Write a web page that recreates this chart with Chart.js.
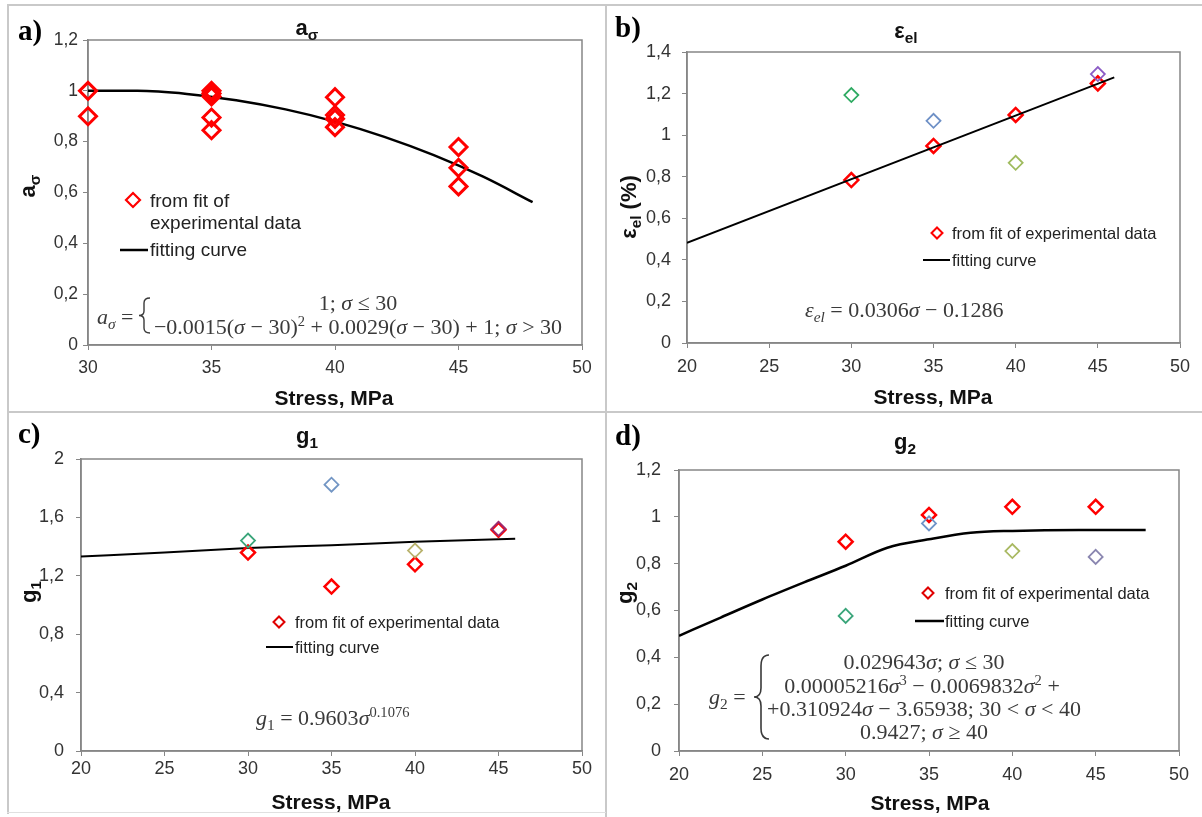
<!DOCTYPE html>
<html><head><meta charset="utf-8">
<script src="https://cdn.jsdelivr.net/npm/chart.js@4.4.1/dist/chart.umd.min.js"></script>
<style>
body{margin:0;background:#fff;}
#fig{position:relative;width:1202px;height:817px;overflow:hidden;font-family:'Liberation Sans',Arial,sans-serif;background:#fff;}
canvas{position:absolute;}
.t{position:absolute;white-space:nowrap;line-height:1;}
.fl{position:absolute;background:#c9c9c9;}
.lab{font-family:'Liberation Serif','Times New Roman',serif;font-weight:bold;font-size:29px;color:#000;}
.ttl{font-weight:bold;font-size:22px;color:#111;transform:translate(-50%,-50%);}
.xt{font-weight:bold;font-size:21px;color:#111;transform:translate(-50%,-50%);}
.yt{font-weight:bold;font-size:22px;color:#111;transform:translate(-50%,-50%) rotate(-90deg);}
.leg{font-size:16.5px;color:#222;transform:translateY(-50%);}
.lega{font-size:19px;color:#222;transform:translateY(-50%);}
.eq{font-family:'Liberation Serif','Times New Roman',serif;font-size:22px;color:#3a3a3a;transform:translate(-50%,-50%);}
.eql{font-family:'Liberation Serif','Times New Roman',serif;font-size:22px;color:#3a3a3a;transform:translateY(-50%);}
.sb{font-size:.7em;position:relative;top:.3em;}
.sp{font-size:.66em;position:relative;top:-.55em;}
svg{position:absolute;overflow:visible;}
</style></head>
<body>
<div id="fig">
  <canvas id="ca" width="600" height="410" style="left:0;top:0"></canvas>
  <canvas id="cb" width="596" height="410" style="left:606px;top:0"></canvas>
  <canvas id="cc" width="606" height="405" style="left:0;top:412px"></canvas>
  <canvas id="cd" width="596" height="405" style="left:606px;top:412px"></canvas>

  <div class="fl" style="left:7px;top:4px;width:1195px;height:2px"></div>
  <div class="fl" style="left:7px;top:4px;width:2px;height:810px"></div>
  <div class="fl" style="left:605px;top:4px;width:2px;height:813px"></div>
  <div class="fl" style="left:7px;top:411px;width:1195px;height:2px"></div>
  <div class="fl" style="left:7px;top:812px;width:599px;height:1px;background:#e0e0e0"></div>

  <!-- panel labels -->
  <div class="t lab" style="left:18px;top:16px">a)</div>
  <div class="t lab" style="left:615px;top:13px">b)</div>
  <div class="t lab" style="left:18px;top:419px">c)</div>
  <div class="t lab" style="left:615px;top:421px">d)</div>

  <!-- titles -->
  <div class="t ttl" style="left:307px;top:28px">a<span class="sb">σ</span></div>
  <div class="t ttl" style="left:906px;top:31px">ε<span class="sb">el</span></div>
  <div class="t ttl" style="left:307px;top:436px">g<span class="sb">1</span></div>
  <div class="t ttl" style="left:905px;top:442px">g<span class="sb">2</span></div>

  <!-- axis titles -->
  <div class="t xt" style="left:334px;top:397px">Stress, MPa</div>
  <div class="t xt" style="left:933px;top:396px">Stress, MPa</div>
  <div class="t xt" style="left:331px;top:801px">Stress, MPa</div>
  <div class="t xt" style="left:930px;top:802px">Stress, MPa</div>
  <div class="t yt" style="left:28px;top:186px">a<span class="sb">σ</span></div>
  <div class="t yt" style="left:629px;top:207px">ε<span class="sb">el</span> (%)</div>
  <div class="t yt" style="left:29px;top:592px">g<span class="sb">1</span></div>
  <div class="t yt" style="left:625px;top:593px">g<span class="sb">2</span></div>

  <!-- legends -->
  <svg style="left:0;top:0" width="1" height="1">
    <path d="M133 193 L140 200 L133 207 L126 200 Z" fill="none" stroke="#ff0000" stroke-width="2.2"/>
    <line x1="120" y1="250" x2="148" y2="250" stroke="#000" stroke-width="2.5"/>
    <path d="M937 227.5 L942.5 233 L937 238.5 L931.5 233 Z" fill="none" stroke="#ff0000" stroke-width="2"/>
    <line x1="923" y1="260" x2="950" y2="260" stroke="#000" stroke-width="2"/>
    <path d="M279 616.5 L284.5 622 L279 627.5 L273.5 622 Z" fill="none" stroke="#e00000" stroke-width="2"/>
    <line x1="266" y1="647" x2="293" y2="647" stroke="#000" stroke-width="2"/>
    <path d="M928 587.5 L933.5 593 L928 598.5 L922.5 593 Z" fill="none" stroke="#e00000" stroke-width="2"/>
    <line x1="915" y1="621" x2="944" y2="621" stroke="#000" stroke-width="2.5"/>
    <!-- braces -->
    <path d="M150 298 Q144 298 144 303 L144 311 Q144 315.5 139 315.5 Q144 315.5 144 320 L144 328 Q144 333 150 333" fill="none" stroke="#3a3a3a" stroke-width="1.4"/>
    <path d="M769 655 Q761 655 761 666 L761 688 Q761 697 754 697 Q761 697 761 706 L761 728 Q761 739 769 739" fill="none" stroke="#3a3a3a" stroke-width="1.6"/>
  </svg>
  <div class="t lega" style="left:150px;top:200px">from fit of</div>
  <div class="t lega" style="left:150px;top:222px">experimental data</div>
  <div class="t lega" style="left:150px;top:249px">fitting curve</div>
  <div class="t leg" style="left:952px;top:233px">from fit of experimental data</div>
  <div class="t leg" style="left:952px;top:260px">fitting curve</div>
  <div class="t leg" style="left:295px;top:622px">from fit of experimental data</div>
  <div class="t leg" style="left:295px;top:647px">fitting curve</div>
  <div class="t leg" style="left:945px;top:593px">from fit of experimental data</div>
  <div class="t leg" style="left:945px;top:621px">fitting curve</div>

  <!-- equations -->
  <div class="t eql" style="left:97px;top:317px"><i>a</i><span class="sb"><i>σ</i></span> =</div>
  <div class="t eq" style="left:358px;top:303px">1; <i>σ</i> ≤ 30</div>
  <div class="t eq" style="left:358px;top:327px">−0.0015(<i>σ</i> − 30)<span class="sp">2</span> + 0.0029(<i>σ</i> − 30) + 1; <i>σ</i> &gt; 30</div>
  <div class="t eql" style="left:805px;top:310px"><i>ε</i><span class="sb"><i>el</i></span> = 0.0306<i>σ</i> − 0.1286</div>
  <div class="t eql" style="left:256px;top:718px"><i>g</i><span class="sb">1</span> = 0.9603<i>σ</i><span class="sp">0.1076</span></div>
  <div class="t eql" style="left:709px;top:697px"><i>g</i><span class="sb">2</span> =</div>
  <div class="t eq" style="left:924px;top:662px">0.029643<i>σ</i>; <i>σ</i> ≤ 30</div>
  <div class="t eq" style="left:922px;top:686px">0.00005216<i>σ</i><span class="sp">3</span> − 0.0069832<i>σ</i><span class="sp">2</span> +</div>
  <div class="t eq" style="left:924px;top:709px">+0.310924<i>σ</i> − 3.65938; 30 &lt; <i>σ</i> &lt; 40</div>
  <div class="t eq" style="left:924px;top:732px">0.9427; <i>σ</i> ≥ 40</div>
</div>

<script>
// ---------- Data ----------
// Panel a) a_sigma
const stressA   = [30, 30, 35, 35, 35, 35, 35, 40, 40, 40, 40, 45, 45, 45];
const aSigmaFit = [1.0, 0.9, 1.0, 0.99, 0.978, 0.895, 0.845, 0.975, 0.905, 0.89, 0.857, 0.779, 0.697, 0.624];
const curveAx   = [30, 32, 34, 36, 38, 40, 42, 44, 46, 48];
const curveAy   = [1.0, 1.0, 0.988, 0.963, 0.927, 0.879, 0.819, 0.747, 0.662, 0.562];

// Common stress levels for b), c), d)
const stressLevels = [30, 35, 40, 45];

// Panel b) eps_el (%)
const epsFit   = [0.784, 0.948, 1.097, 1.249];
const epsOther = [1.193, 1.069, 0.867, 1.294];
const epsLineX = [20, 46];
const epsLineY = [0.482, 1.278];

// Panel c) g1
const g1Fit   = [1.359, 1.126, 1.279, 1.515];
const g1Other = [1.441, 1.824, 1.373, 1.522];
const g1LineX = [20, 25, 30, 35, 40, 46];
const g1LineY = [1.332, 1.36, 1.39, 1.41, 1.433, 1.453];

// Panel d) g2
const g2Fit    = [0.894, 1.008, 1.043, 1.043];
const g2Other  = [0.577, 0.972, 0.854, 0.829];
const g2CurveX = [20, 22.5, 25, 27.5, 30, 32.5, 35, 37.5, 40, 44, 48];
const g2CurveY = [0.492, 0.57, 0.647, 0.72, 0.791, 0.868, 0.904, 0.932, 0.94, 0.944, 0.944];

// Tick values / labels
const xTicksA = [30, 35, 40, 45, 50];
const xTicksBCD = [20, 25, 30, 35, 40, 45, 50];
const yTicksA = [0, 0.2, 0.4, 0.6, 0.8, 1, 1.2];
const yLabelsA = ['0', '0,2', '0,4', '0,6', '0,8', '1', '1,2'];
const yTicksB = [0, 0.2, 0.4, 0.6, 0.8, 1, 1.2, 1.4];
const yLabelsB = ['0', '0,2', '0,4', '0,6', '0,8', '1', '1,2', '1,4'];
const yTicksC = [0, 0.4, 0.8, 1.2, 1.6, 2];
const yLabelsC = ['0', '0,4', '0,8', '1,2', '1,6', '2'];
const yTicksD = [0, 0.2, 0.4, 0.6, 0.8, 1, 1.2];
const yLabelsD = ['0', '0,2', '0,4', '0,6', '0,8', '1', '1,2'];

// marker colours of the other specimens (30, 35, 40, 45 MPa)
const otherColorsB = ['#2eaa62', '#6e90c6', '#9fbb5e', '#8c5cc6'];
const otherColorsC = ['#3aa57a', '#7396c4', '#b8b26c', '#9a2a72'];
const otherColorsD = ['#3aa57a', '#6f94c8', '#a9b962', '#8a86b0'];

// ---------- helpers ----------
const pts = (xs, ys) => xs.map((x, i) => ({ x: x, y: ys[i] }));
const AXIS = '#868686';

const boxPlugin = {
  id: 'plotBox',
  beforeDatasetsDraw(chart) {
    const { ctx, chartArea: a } = chart;
    ctx.save();
    ctx.strokeStyle = AXIS;
    ctx.lineWidth = 1.5;
    ctx.strokeRect(a.left, a.top, a.right - a.left, a.bottom - a.top);
    ctx.restore();
  }
};

function makeChart(id, cfg) {
  const xScale = {
    type: 'linear', min: cfg.xTicks[0], max: cfg.xTicks[cfg.xTicks.length - 1],
    afterBuildTicks: s => { s.ticks = cfg.xTicks.map(v => ({ value: v })); },
    afterFit: s => { s.height = cfg.xH; },
    grid: { display: true, drawOnChartArea: false, drawTicks: true, tickLength: 5, color: AXIS },
    border: { display: true, color: AXIS, width: 1.5 },
    ticks: { font: { size: cfg.fs }, color: '#333', padding: cfg.xPad, maxRotation: 0, autoSkip: false,
             callback: v => String(v) }
  };
  const yScale = {
    type: 'linear', min: cfg.yTicks[0], max: cfg.yTicks[cfg.yTicks.length - 1],
    afterBuildTicks: s => { s.ticks = cfg.yTicks.map(v => ({ value: v })); },
    afterFit: s => { s.width = cfg.yW; },
    grid: { display: true, drawOnChartArea: false, drawTicks: true, tickLength: 5, color: AXIS },
    border: { display: true, color: AXIS, width: 1.5 },
    ticks: { font: { size: cfg.fs }, color: '#333', padding: cfg.yPad, autoSkip: false,
             callback: (v, i) => cfg.yLabels[i] }
  };
  return new Chart(document.getElementById(id), {
    type: 'scatter',
    data: { datasets: cfg.datasets },
    options: {
      responsive: false, animation: false, devicePixelRatio: 1, events: [],
      layout: { padding: { left: 0, top: cfg.padT, right: cfg.padR, bottom: 0 } },
      scales: { x: xScale, y: yScale },
      plugins: { legend: { display: false }, tooltip: { enabled: false } }
    },
    plugins: [boxPlugin]
  });
}

Chart.defaults.font.family = "'Liberation Sans', Arial, sans-serif";

const redPts = (data, r, bw) => ({ data, pointStyle: 'rectRot', pointRadius: r, borderWidth: bw,
  pointBorderColor: '#ff0000', pointBackgroundColor: 'rgba(255,255,255,0)', showLine: false, clip: false, order: 1 });
const otherPts = (data, colors) => ({ data, pointStyle: 'rectRot', pointRadius: 7, borderWidth: 1.8,
  pointBorderColor: colors, pointBackgroundColor: 'rgba(255,255,255,0)', showLine: false, clip: false, order: 0 });
const curve = (data, w, tension) => ({ data, showLine: true, pointRadius: 0, borderColor: '#000', borderWidth: w,
  tension: tension, cubicInterpolationMode: 'monotone', fill: false, order: 2 });

// a)
makeChart('ca', {
  xTicks: xTicksA, yTicks: yTicksA, yLabels: yLabelsA, fs: 17.5,
  yW: 88, xH: 65, padT: 40, padR: 18, xPad: 8, yPad: 5,
  datasets: [ curve(pts(curveAx, curveAy), 2.5, 0.4), redPts(pts(stressA, aSigmaFit), 8.5, 3) ]
});
// b)
makeChart('cb', {
  xTicks: xTicksBCD, yTicks: yTicksB, yLabels: yLabelsB, fs: 18,
  yW: 81, xH: 67, padT: 52, padR: 22, xPad: 8, yPad: 11,
  datasets: [ redPts(pts(stressLevels, epsFit), 7, 2.5), otherPts(pts(stressLevels, epsOther), otherColorsB),
              Object.assign(curve(pts(epsLineX, epsLineY), 1.8, 0), { order: 0 }) ]
});
// c)
makeChart('cc', {
  xTicks: xTicksBCD, yTicks: yTicksC, yLabels: yLabelsC, fs: 18,
  yW: 81, xH: 66, padT: 47, padR: 24, xPad: 2, yPad: 12,
  datasets: [ curve(pts(g1LineX, g1LineY), 2, 0.3), redPts(pts(stressLevels, g1Fit), 7, 2.5),
              otherPts(pts(stressLevels, g1Other), otherColorsC) ]
});
// d)
makeChart('cd', {
  xTicks: xTicksBCD, yTicks: yTicksD, yLabels: yLabelsD, fs: 18,
  yW: 73, xH: 66, padT: 58, padR: 23, xPad: 8, yPad: 13,
  datasets: [ curve(pts(g2CurveX, g2CurveY), 2.5, 0.4), redPts(pts(stressLevels, g2Fit), 7, 2.5),
              otherPts(pts(stressLevels, g2Other), otherColorsD) ]
});
</script>
</body></html>
